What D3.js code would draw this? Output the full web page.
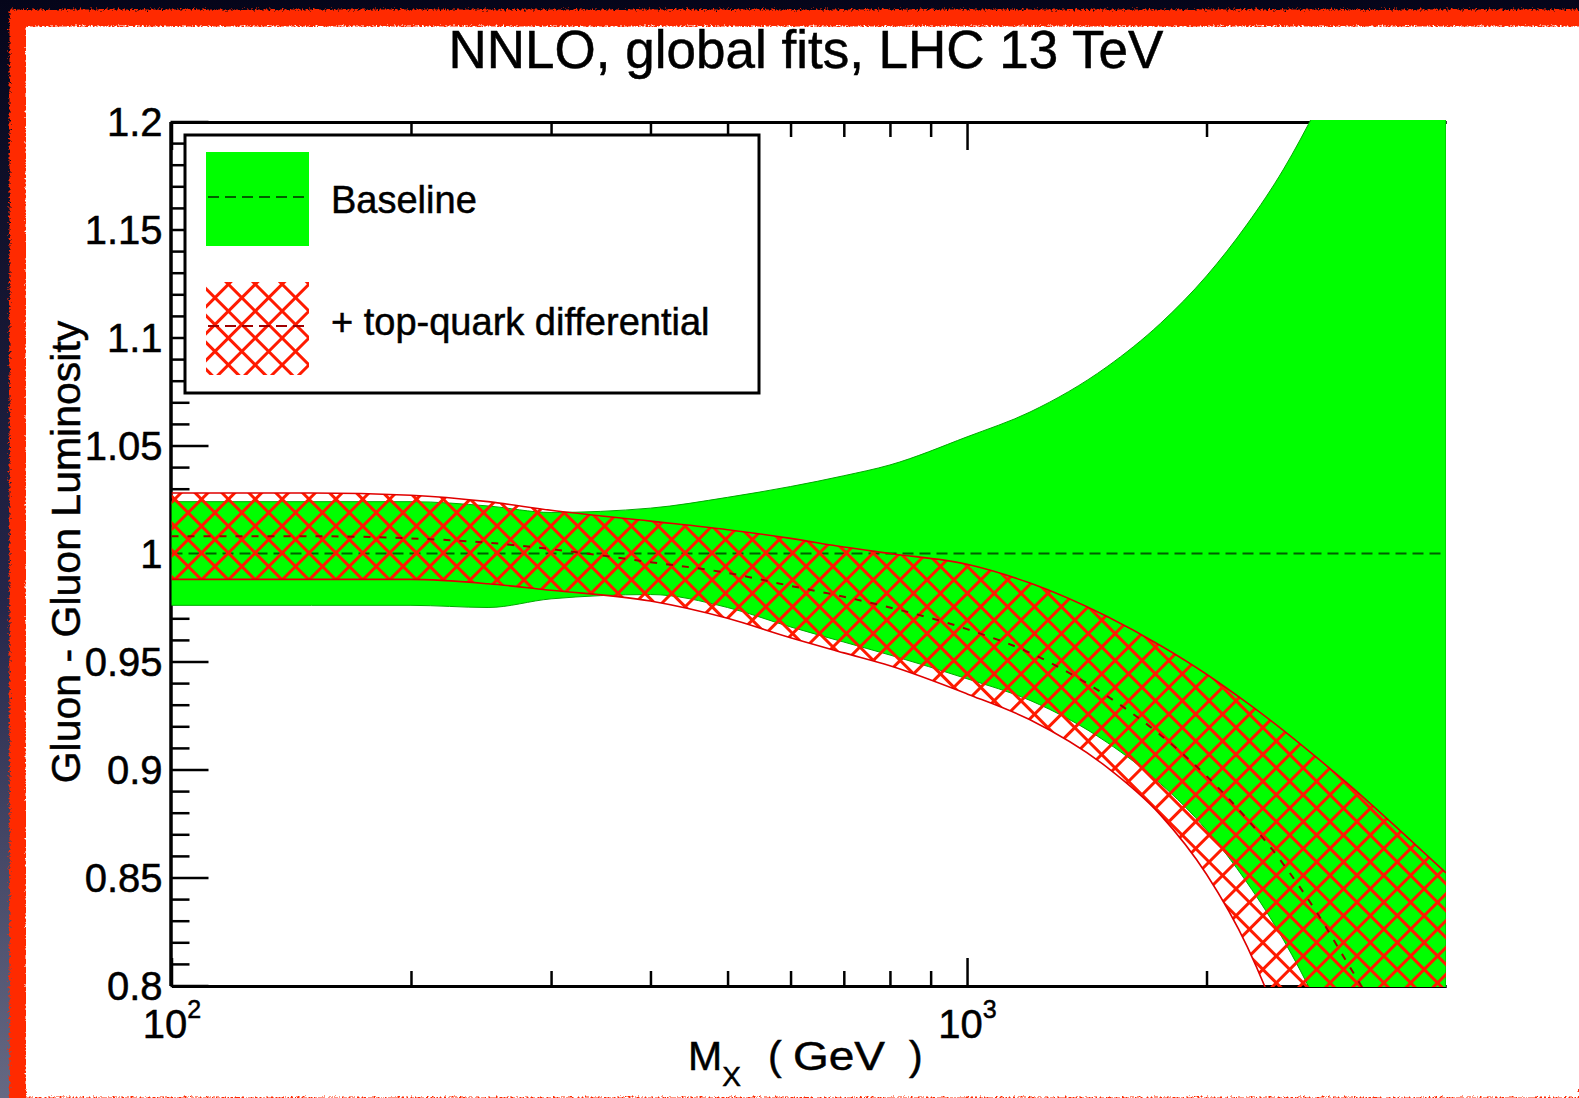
<!DOCTYPE html>
<html>
<head>
<meta charset="utf-8">
<script src="https://cdn.jsdelivr.net/npm/d3@7"></script>
<style>
  html, body { margin: 0; padding: 0; background: #0b0b22; }
  svg { display: block; }
  text { font-family: "Liberation Sans", Arial, Helvetica, sans-serif; fill: #000; stroke: #000; stroke-width: 0.5px; }
</style>
</head>
<body>
<script>
// Invariant mass grid (GeV) on which the luminosity ratios are tabulated
const massGeV = [100, 150, 200, 250, 300, 400, 500, 600, 700, 800, 1000, 1200, 1500, 1750, 2000, 2250, 2500, 2750, 3000, 3500, 4000];

// Baseline global fit: uncertainty band and central value (ratio to baseline)
const baselineUpper   = [1.024, 1.024, 1.024, 1.022, 1.019, 1.021, 1.026, 1.031, 1.036, 1.041, 1.054, 1.0655, 1.0865, 1.1065, 1.1285, 1.1525, 1.178, 1.206, 1.235, 1.300, 1.370];
const baselineLower   = [0.976, 0.976, 0.976, 0.975, 0.979, 0.981, 0.975, 0.966, 0.959, 0.953, 0.942, 0.932, 0.9125, 0.8935, 0.872, 0.8475, 0.821, 0.792, 0.761, 0.697, 0.636];
const baselineCentral = [1.000, 1.000, 1.000, 1.000, 1.000, 1.000, 1.000, 1.000, 1.000, 1.000, 1.000, 1.000, 1.000, 1.000, 1.000, 1.000, 1.000, 1.000, 1.000, 1.000, 1.000];

// Fit including top-quark differential data
const topUpper   = [1.028, 1.028, 1.027, 1.024, 1.020, 1.015, 1.011, 1.007, 1.003, 1.000, 0.995, 0.9863, 0.9708, 0.9574, 0.9441, 0.9308, 0.918, 0.9056, 0.8939, 0.8718, 0.8521];
const topLower   = [0.988, 0.988, 0.988, 0.986, 0.983, 0.978, 0.970, 0.961, 0.954, 0.948, 0.935, 0.923, 0.901, 0.879, 0.8515, 0.818, 0.777, 0.730, 0.677, 0.580, 0.480];
const topCentral = [1.008, 1.008, 1.007, 1.005, 1.002, 0.996, 0.991, 0.985, 0.980, 0.975, 0.965, 0.954, 0.934, 0.916, 0.897, 0.877, 0.856, 0.834, 0.811, 0.770, 0.730];

// Axis ticks
const yMajorTicks = [0.8, 0.85, 0.9, 0.95, 1.0, 1.05, 1.1, 1.15, 1.2];
const yMinorTicks = [0.81, 0.82, 0.83, 0.84, 0.86, 0.87, 0.88, 0.89, 0.91, 0.92, 0.93, 0.94,
                     0.96, 0.97, 0.98, 0.99, 1.01, 1.02, 1.03, 1.04, 1.06, 1.07, 1.08, 1.09,
                     1.11, 1.12, 1.13, 1.14, 1.16, 1.17, 1.18, 1.19];
const xMajorTicks = [100, 1000];
const xMajorExponents = ["2", "3"];
const xMinorTicks = [200, 300, 400, 500, 600, 700, 800, 900, 2000, 3000];

const titleText = "NNLO, global fits, LHC 13 TeV";
const yTitle = "Gluon - Gluon Luminosity";
const legendLabels = ["Baseline", "+ top-quark differential"];

const W = 1579, H = 1098;
const svg = d3.select("body").append("svg").attr("width", W).attr("height", H);
const defs = svg.append("defs");

// slide background
const bg = defs.append("linearGradient").attr("id", "bgGrad")
  .attr("x1", 0).attr("y1", 0).attr("x2", 0).attr("y2", 1);
bg.append("stop").attr("offset", "0%").attr("stop-color", "#05051a");
bg.append("stop").attr("offset", "55%").attr("stop-color", "#25264a");
bg.append("stop").attr("offset", "100%").attr("stop-color", "#666983");

// brush-like edge for the picture frame
const rough = defs.append("filter").attr("id", "rough")
  .attr("filterUnits", "userSpaceOnUse")
  .attr("x", -20).attr("y", -20).attr("width", W + 40).attr("height", H + 40);
rough.append("feTurbulence").attr("type", "fractalNoise")
  .attr("baseFrequency", "0.45").attr("numOctaves", 2).attr("seed", 7).attr("result", "noise");
rough.append("feDisplacementMap").attr("in", "SourceGraphic").attr("in2", "noise")
  .attr("scale", 7).attr("xChannelSelector", "R").attr("yChannelSelector", "G");

// red cross-hatch
const hatchPeriod = 19, hatchWidth = 3, hatchColor = "#ff1a00";
const hatch = defs.append("pattern").attr("id", "hatch")
  .attr("patternUnits", "userSpaceOnUse")
  .attr("width", hatchPeriod).attr("height", hatchPeriod)
  .attr("patternTransform", "rotate(45)");
hatch.append("rect").attr("x", 0).attr("y", 0).attr("width", hatchPeriod).attr("height", hatchWidth).attr("fill", hatchColor);
hatch.append("rect").attr("x", 0).attr("y", 0).attr("width", hatchWidth).attr("height", hatchPeriod).attr("fill", hatchColor);

svg.append("rect").attr("width", W).attr("height", H).attr("fill", "url(#bgGrad)");
svg.append("rect").attr("x", 18).attr("y", 18).attr("width", W - 10).attr("height", H - 10)
  .attr("fill", "#fff").attr("stroke", "#ff2a00").attr("stroke-width", 17)
  .attr("filter", "url(#rough)");
svg.append("rect").attr("x", 26).attr("y", 27).attr("width", W - 26).attr("height", 1062).attr("fill", "#fff");

// scales
const x = d3.scaleLog().domain([100, 4000]).range([171.5, 1446]);
const y = d3.scaleLinear().domain([0.8, 1.2]).range([985.5, 121.5]);
const [x0, x1] = x.range();
const [yb, yt] = y.range();

// ---- axes (drawn below the bands) ----
const axisStroke = g => {
  g.selectAll(".domain").attr("stroke", "#000").attr("stroke-width", 3);
  g.selectAll(".tick line").attr("stroke", "#000").attr("stroke-width", 2.5);
};

const gLeftMinor = svg.append("g").attr("transform", `translate(${x0 - 1},0)`)
  .call(d3.axisLeft(y).tickValues(yMinorTicks).tickSizeInner(-19).tickSizeOuter(0).tickFormat(""));
const gLeft = svg.append("g").attr("transform", `translate(${x0 - 1},0)`)
  .call(d3.axisLeft(y).tickValues(yMajorTicks).tickSizeInner(-38).tickSizeOuter(0).tickPadding(8)
    .tickFormat(d => String(+d.toFixed(2))));
[gLeftMinor, gLeft].forEach(axisStroke);
gLeft.selectAll(".tick text").attr("font-size", 40).attr("dy", "0.36em")
  .attr("font-family", "Liberation Sans, Arial, sans-serif").attr("fill", "#000");

const gBottomMinor = svg.append("g").attr("transform", `translate(0,${yb + 0.5})`)
  .call(d3.axisBottom(x).tickValues(xMinorTicks).tickSizeInner(-15).tickSizeOuter(0).tickFormat(""));
const gBottom = svg.append("g").attr("transform", `translate(0,${yb + 0.5})`)
  .call(d3.axisBottom(x).tickValues(xMajorTicks).tickSizeInner(-28).tickSizeOuter(0).tickFormat(""));
const gTopMinor = svg.append("g").attr("transform", `translate(0,${yt + 0.5})`)
  .call(d3.axisTop(x).tickValues(xMinorTicks).tickSizeInner(-15).tickSizeOuter(0).tickFormat(""));
const gTop = svg.append("g").attr("transform", `translate(0,${yt + 0.5})`)
  .call(d3.axisTop(x).tickValues(xMajorTicks).tickSizeInner(-28).tickSizeOuter(0).tickFormat(""));
[gBottomMinor, gBottom, gTopMinor, gTop].forEach(axisStroke);

// x tick labels as powers of ten
gBottom.selectAll(".tick").each(function (d, i) {
  const t = d3.select(this).append("text")
    .attr("y", 52).attr("text-anchor", "middle").attr("font-size", 40).attr("fill", "#000");
  t.append("tspan").text("10");
  t.append("tspan").attr("font-size", 25).attr("dy", -20).text(xMajorExponents[i]);
});

// ---- bands ----
const clip = defs.append("clipPath").attr("id", "plotClip");
clip.append("rect").attr("x", x0).attr("y", yt - 1.5).attr("width", x1 - x0).attr("height", yb - yt + 3);

const plot = svg.append("g").attr("clip-path", "url(#plotClip)");

const bandArea = (lo, hi) => d3.area()
  .x((d, i) => x(massGeV[i]))
  .y0((d, i) => y(lo[i]))
  .y1((d, i) => y(hi[i]))
  .curve(d3.curveMonotoneX)(massGeV);
const edgeLine = vals => d3.line()
  .x((d, i) => x(massGeV[i]))
  .y((d, i) => y(vals[i]))
  .curve(d3.curveMonotoneX)(massGeV);

plot.append("path").attr("d", bandArea(baselineLower, baselineUpper))
  .attr("fill", "#00ff00").attr("stroke", "#00a800").attr("stroke-width", 1);
plot.append("path").attr("d", edgeLine(baselineCentral))
  .attr("fill", "none").attr("stroke", "#006000").attr("stroke-width", 2).attr("stroke-dasharray", "11,6");

plot.append("path").attr("d", bandArea(topLower, topUpper)).attr("fill", "url(#hatch)");
[topUpper, topLower].forEach(v =>
  plot.append("path").attr("d", edgeLine(v))
    .attr("fill", "none").attr("stroke", "#e00000").attr("stroke-width", 1.6));
plot.append("path").attr("d", edgeLine(topCentral))
  .attr("fill", "none").attr("stroke", "#a00000").attr("stroke-width", 2).attr("stroke-dasharray", "7,9");

// ---- legend ----
const lg = svg.append("g");
lg.append("rect").attr("x", 185).attr("y", 135).attr("width", 574).attr("height", 258)
  .attr("fill", "#fff").attr("stroke", "#000").attr("stroke-width", 3);
lg.append("rect").attr("x", 206).attr("y", 152).attr("width", 103).attr("height", 94).attr("fill", "#00ff00");
lg.append("line").attr("x1", 208).attr("x2", 307).attr("y1", 197).attr("y2", 197)
  .attr("stroke", "#006000").attr("stroke-width", 2).attr("stroke-dasharray", "11,6");
lg.append("rect").attr("x", 206).attr("y", 282).attr("width", 103).attr("height", 93).attr("fill", "url(#hatch)");
lg.append("line").attr("x1", 208).attr("x2", 307).attr("y1", 326).attr("y2", 326)
  .attr("stroke", "#a00000").attr("stroke-width", 2).attr("stroke-dasharray", "11,6");
lg.append("text").attr("x", 331).attr("y", 213).attr("font-size", 38).text(legendLabels[0]);
lg.append("text").attr("x", 331).attr("y", 335).attr("font-size", 38).text(legendLabels[1]);

// ---- titles ----
svg.append("text").attr("x", 806).attr("y", 68).attr("text-anchor", "middle")
  .attr("font-size", 53).text(titleText);

svg.append("text").attr("transform", "translate(80,552) rotate(-90)")
  .attr("text-anchor", "middle").attr("font-size", 41).text(yTitle);

const xt = svg.append("text").attr("y", 1070).attr("font-size", 41);
xt.append("tspan").attr("x", 688).text("M");
xt.append("tspan").attr("font-size", 28).attr("dy", 16).text("X");
xt.append("tspan").attr("x", 768).attr("dy", -16).text("(");
xt.append("tspan").attr("x", 793).attr("textLength", 92).attr("lengthAdjust", "spacingAndGlyphs").text("GeV");
xt.append("tspan").attr("x", 909).text(")");
</script>
</body>
</html>
